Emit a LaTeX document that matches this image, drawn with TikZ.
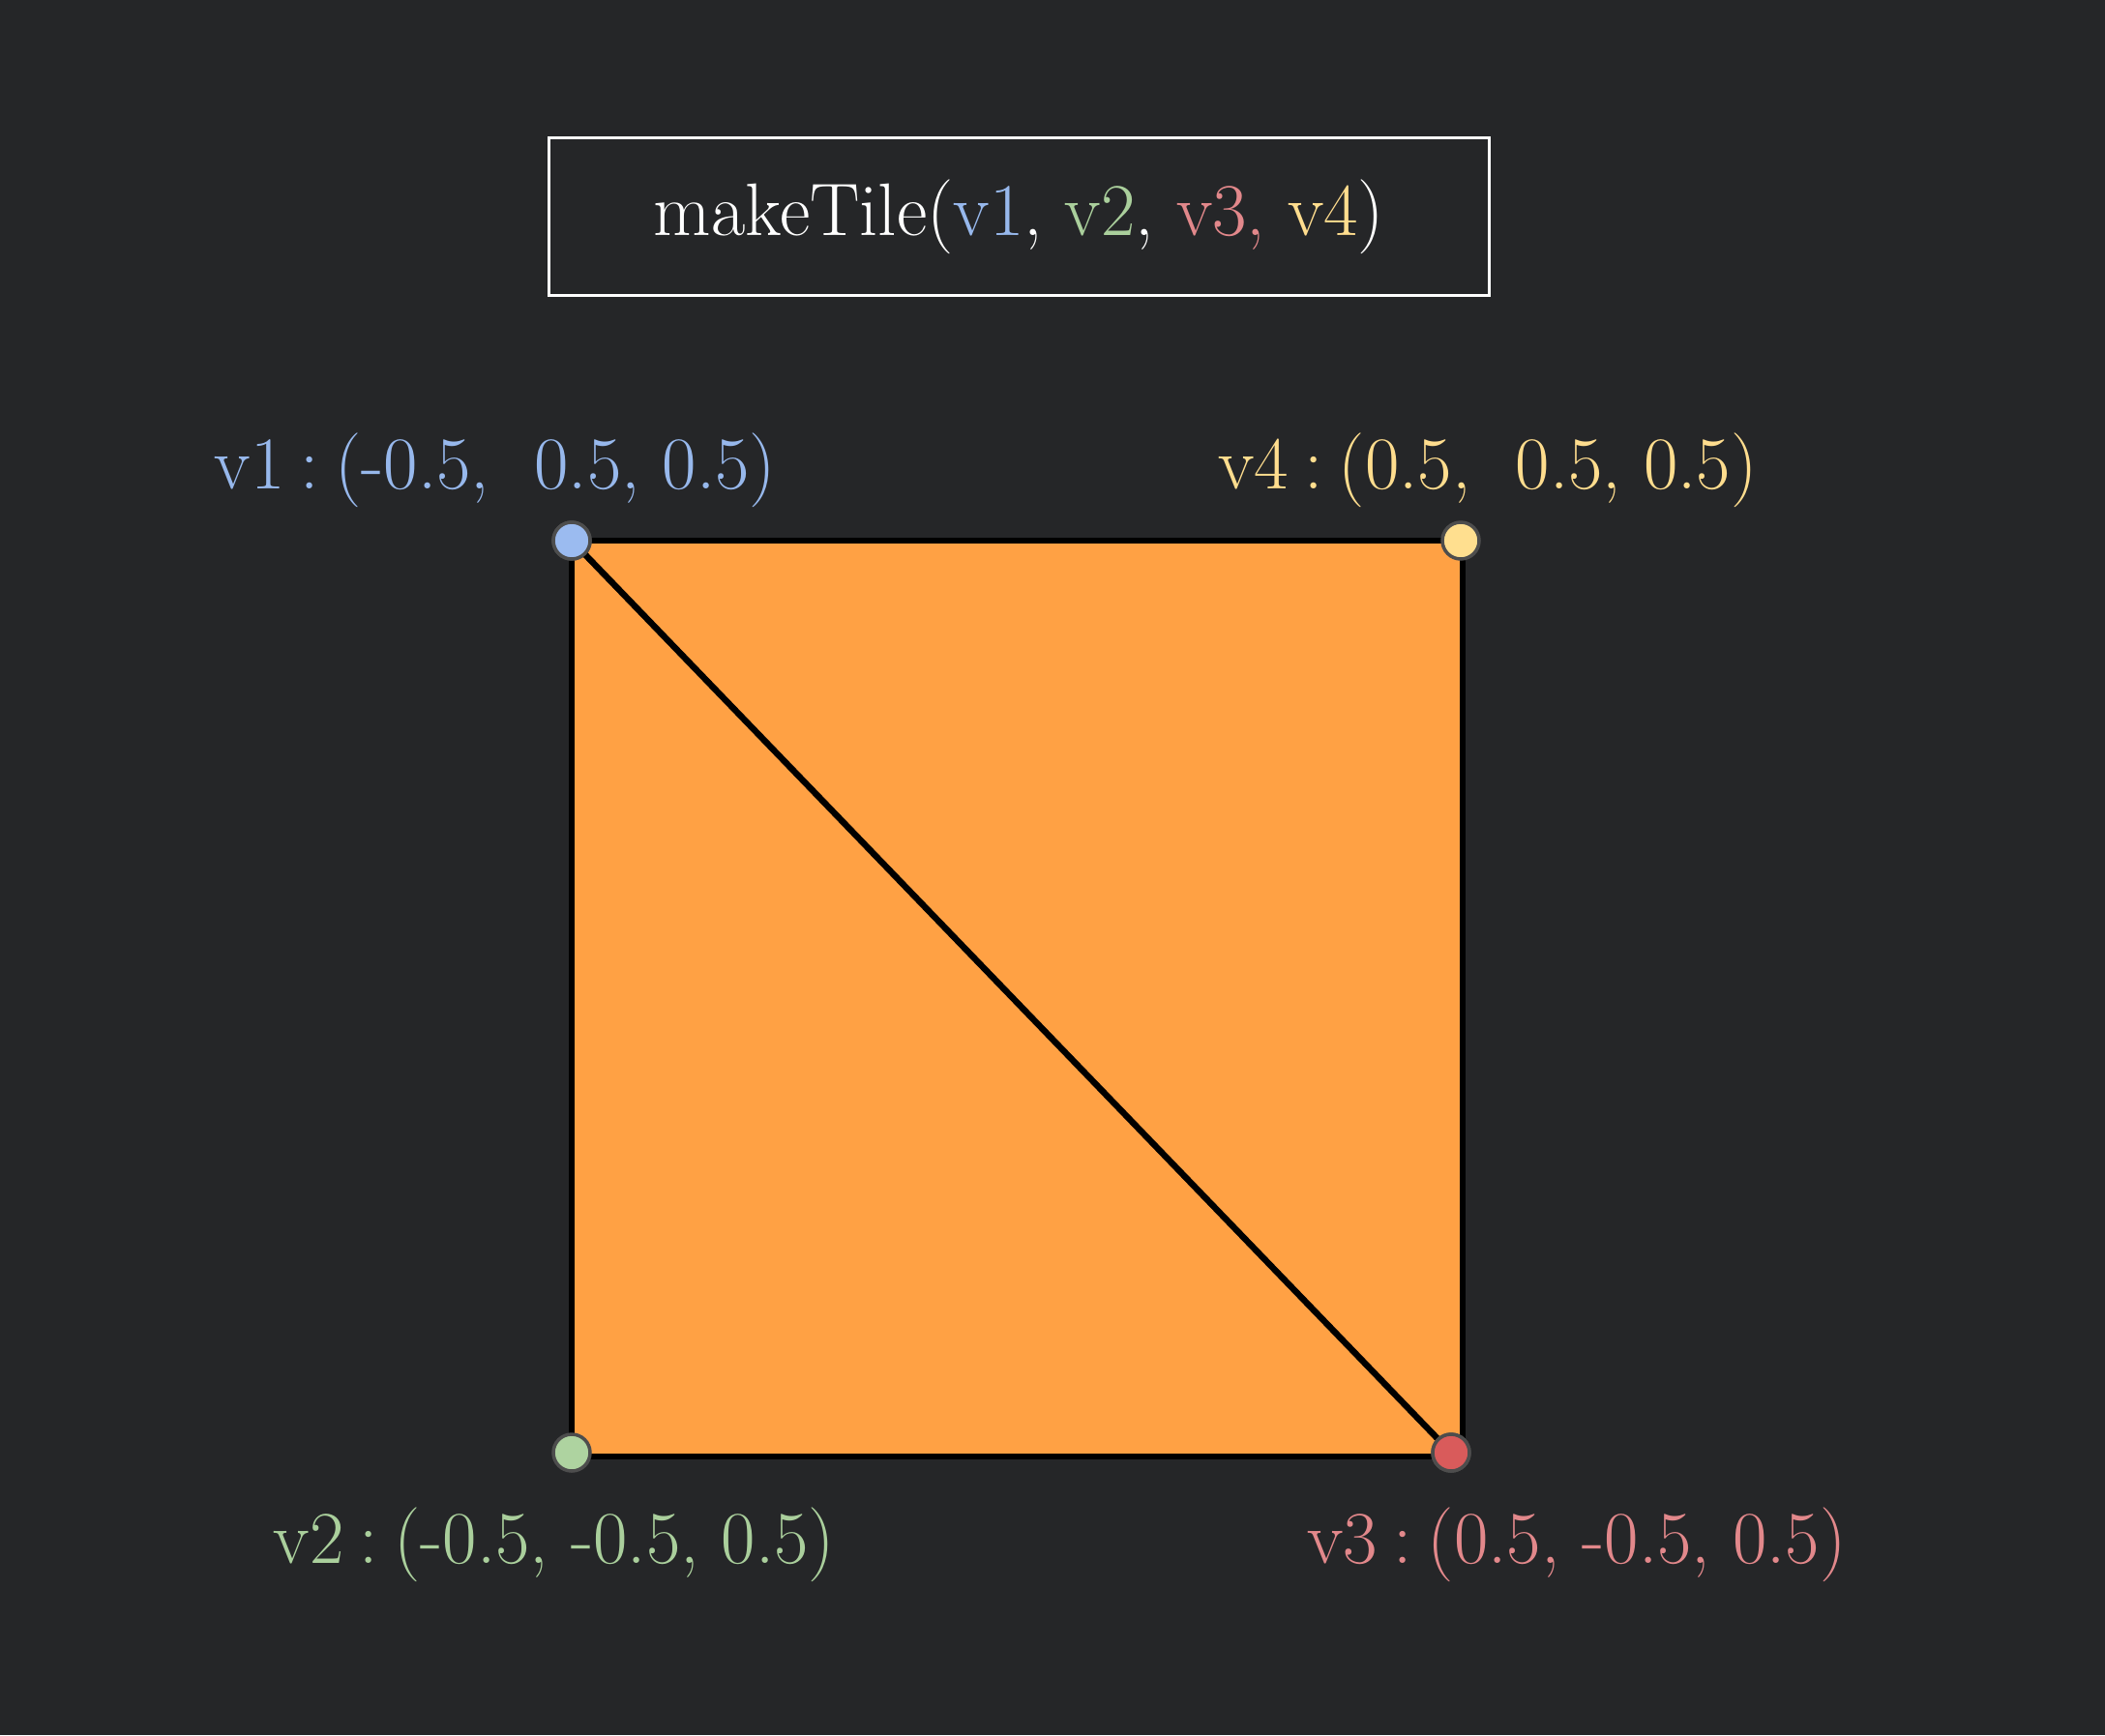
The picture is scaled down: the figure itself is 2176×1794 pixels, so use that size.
\documentclass[tikz,border=0pt]{standalone}
\definecolor{bg}{HTML}{252628}
\definecolor{tileorange}{HTML}{FFA144}
\definecolor{cblue}{HTML}{97B8EC}
\definecolor{cgreen}{HTML}{AACF9C}
\definecolor{cred}{HTML}{E2888B}
\definecolor{cyellow}{HTML}{FFDD8E}
\definecolor{dotblue}{HTML}{9BBBF0}
\definecolor{dotgreen}{HTML}{AED3A0}
\definecolor{dotred}{HTML}{D95B5B}
\definecolor{dotyellow}{HTML}{FFDF8F}
\definecolor{dotline}{HTML}{4D4D4D}
\newcommand{\cgap}{\hspace{0.21em}}
\tikzset{
  vdot/.style={circle, draw=dotline, line width=3.5pt, minimum size=38pt, inner sep=0pt},
  lbl/.style={font=\fontsize{77}{90}\selectfont, inner sep=0pt},
  edge/.style={draw=black, line width=6.5pt, line join=miter}
}
\begin{document}
\begin{tikzpicture}[x=1pt,y=-1pt]
\fill[bg] (0,0) rectangle (2176,1794);
\useasboundingbox (0,0) rectangle (2176,1794);
% title
\node[draw=white, line width=3pt, minimum width=972pt, minimum height=163pt, inner sep=0pt,
      font=\fontsize{77}{90}\selectfont, text=white] (title) at (1053.5,224)
  {makeTile(\textcolor{cblue}{v1}, \textcolor{cgreen}{v2}, \textcolor{cred}{v3, }\textcolor{cyellow}{v4})};
% square corners
\coordinate (c1) at (591,559);
\coordinate (c4) at (1512,559);
\coordinate (c3) at (1512,1506);
\coordinate (c2) at (591,1506);
\fill[tileorange] (c1) -- (c4) -- (c3) -- (c2) -- cycle;
\draw[edge] (c1) -- (c4) -- (c3) -- (c2) -- cycle;
% vertices
\node[vdot, fill=dotblue] (v1) at (591,559) {};
\node[vdot, fill=dotyellow] (v4) at (1510,559) {};
\node[vdot, fill=dotgreen] (v2) at (591,1502) {};
\node[vdot, fill=dotred] (v3) at (1500,1502) {};
\draw[edge] (c1) -- (v3);
\node[vdot, fill=dotblue] at (v1) {};
\node[vdot, fill=dotred] at (v3) {};
% labels
\node[lbl, text=cblue] (l1) at (512,486) {v1\cgap:\cgap(-0.5,\ \ 0.5, 0.5)};
\node[lbl, text=cyellow] (l4) at (1538,486) {v4\cgap:\cgap(0.5,\ \ 0.5, 0.5)};
\node[lbl, text=cgreen] (l2) at (573,1597) {v2\cgap:\cgap(-0.5, -0.5, 0.5)};
\node[lbl, text=cred] (l3) at (1630,1597) {v3\cgap:\cgap(0.5, -0.5, 0.5)};
\end{tikzpicture}
\end{document}
